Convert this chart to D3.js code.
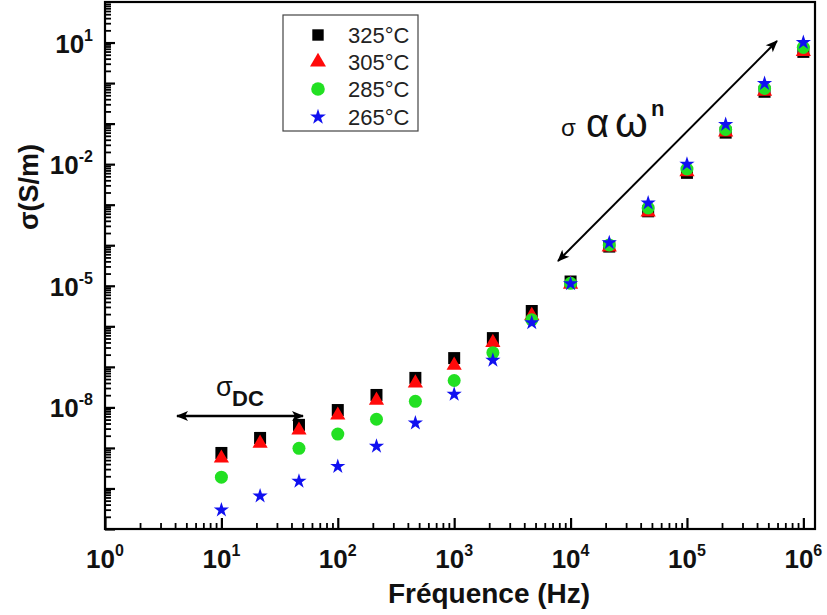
<!DOCTYPE html>
<html>
<head>
<meta charset="utf-8">
<script src="https://cdn.jsdelivr.net/npm/d3@7"></script>
<style>
  html, body { margin: 0; padding: 0; background: #fff; }
  svg { display: block; font-family: "Liberation Sans", Arial, sans-serif; }
</style>
</head>
<body>
<svg id="chart" width="827" height="615"></svg>
<script>
// Frequencies (Hz), three points per decade
const frequencies = [10, 21.5, 46.4, 100, 215, 464, 1000, 2150, 4640,
  1e4, 2.15e4, 4.64e4, 1e5, 2.15e5, 4.64e5, 1e6];

// Conductivity sigma (S/m) at each temperature
const sigma325 = [6.9e-10, 1.62e-9, 3.4e-9, 7.9e-9, 1.86e-8, 4.9e-8, 1.51e-7, 4.7e-7, 2.19e-6,
  1.17e-5, 8.5e-5, 6.3e-4, 5.6e-3, 0.055, 0.56, 5.4];
const sigma305 = [5.9e-10, 1.38e-9, 2.9e-9, 6.8e-9, 1.58e-8, 4.2e-8, 1.15e-7, 4.2e-7, 1.95e-6,
  1.15e-5, 9.5e-5, 6.9e-4, 6.8e-3, 0.065, 0.66, 6.3];
const sigma285 = [1.9e-10, null, 9.8e-10, 2.2e-9, 5.1e-9, 1.41e-8, 4.6e-8, 2.24e-7, 1.45e-6,
  1.15e-5, 1.02e-4, 8.3e-4, 7.6e-3, 0.072, 0.74, 7.6];
const sigma265 = [2.95e-11, 6.5e-11, 1.51e-10, 3.5e-10, 1.1e-9, 4.1e-9, 2.1e-8, 1.45e-7, 1.23e-6,
  1.12e-5, 1.15e-4, 1.1e-3, 0.01, 0.095, 0.98, 10];

const seriesNames = ["325°C", "305°C", "285°C", "265°C"];
const seriesValues = [sigma325, sigma305, sigma285, sigma265];

// Decade exponents used for tick labels
const xLabelExponents = [0, 1, 2, 3, 4, 5, 6];
const yLabelExponents = [1, -2, -5, -8];

const svg = d3.select("#chart");
const plotLeft = 105, plotRight = 815, plotTop = 2, plotBottom = 529;

const x = d3.scaleLog().domain([1, Math.pow(10, 6.1)]).range([plotLeft, plotRight]);
const y = d3.scaleLog().domain([1e-11, 1e2]).range([plotBottom, plotTop]);

// tick values: majors at each decade, minors at 2..9
function logTicks(eMin, eMax, maxVal) {
  const major = [], minor = [];
  for (let e = eMin; e <= eMax; e++) {
    const base = Math.pow(10, e);
    major.push(base);
    for (let m = 2; m <= 9; m++) {
      const v = m * base;
      if (v < maxVal) minor.push(v);
    }
  }
  return { major, minor };
}
const xt = logTicks(0, 6, x.domain()[1]);
const yt = logTicks(-11, 1, 1e2);

function styleAxis(g, w) {
  g.select(".domain").remove();
  g.selectAll(".tick line").attr("stroke", "#000").attr("stroke-width", w);
}

// x axis ticks (pointing inward)
svg.append("g").attr("transform", `translate(0,${plotBottom})`)
  .call(d3.axisBottom(x).tickValues(xt.minor).tickSize(-6).tickSizeOuter(0).tickFormat(""))
  .call(g => styleAxis(g, 1.8));
svg.append("g").attr("transform", `translate(0,${plotBottom})`)
  .call(d3.axisBottom(x).tickValues(xt.major).tickSize(-11).tickSizeOuter(0).tickFormat(""))
  .call(g => styleAxis(g, 2.2));

// y axis ticks (pointing inward)
svg.append("g").attr("transform", `translate(${plotLeft},0)`)
  .call(d3.axisLeft(y).tickValues(yt.minor).tickSize(-6).tickSizeOuter(0).tickFormat(""))
  .call(g => styleAxis(g, 1.8));
svg.append("g").attr("transform", `translate(${plotLeft},0)`)
  .call(d3.axisLeft(y).tickValues(yt.major).tickSize(-10).tickSizeOuter(0).tickFormat(""))
  .call(g => styleAxis(g, 2.2));

// frame
svg.append("rect")
  .attr("x", plotLeft).attr("y", plotTop)
  .attr("width", plotRight - plotLeft).attr("height", plotBottom - plotTop)
  .attr("fill", "none").attr("stroke", "#000").attr("stroke-width", 2.2);

// tick labels with superscript exponents
const xl = svg.append("g").attr("font-weight", "bold").attr("fill", "#111");
xLabelExponents.forEach(e => {
  const t = xl.append("text")
    .attr("x", x(Math.pow(10, e))).attr("y", 568)
    .attr("text-anchor", "middle").attr("font-size", 26);
  t.append("tspan").text("10");
  t.append("tspan").attr("dy", -12).attr("font-size", 16).text(e);
});
yLabelExponents.forEach(e => {
  const t = xl.append("text")
    .attr("x", 93).attr("y", y(Math.pow(10, e)) + 10)
    .attr("text-anchor", "end").attr("font-size", 26);
  t.append("tspan").text("10");
  t.append("tspan").attr("dy", -12).attr("font-size", 16).text(e);
});

// axis titles
svg.append("text")
  .attr("x", 489).attr("y", 603).attr("text-anchor", "middle")
  .attr("font-size", 28).attr("font-weight", "bold").attr("fill", "#111")
  .text("Fréquence (Hz)");
svg.append("text")
  .attr("transform", "translate(38,187) rotate(-90)")
  .attr("text-anchor", "middle")
  .attr("font-size", 27).attr("font-weight", "bold").attr("fill", "#111")
  .text("σ(S/m)");

// marker definitions
const markers = [
  { fill: "#000000", path: d3.symbol(d3.symbolSquare, 144)(), dy: -1.5 },
  { fill: "#ff0a0a", path: d3.symbol(d3.symbolTriangle, 100)(), dy: 1 },
  { fill: "#22e022", path: d3.symbol(d3.symbolCircle, 133)(), dy: 0 },
  { fill: "#1010f0", path: d3.symbol(d3.symbolStar, 72)(), dy: 0 }
];

// data points, lowest temperature drawn last (on top)
seriesValues.forEach((vals, i) => {
  const pts = frequencies.map((f, j) => ({ f, v: vals[j] })).filter(d => d.v != null);
  svg.append("g").selectAll("path").data(pts).join("path")
    .attr("d", markers[i].path)
    .attr("fill", markers[i].fill)
    .attr("transform", d => `translate(${x(d.f)},${y(d.v) + markers[i].dy})`);
});

// legend
const lg = svg.append("g");
lg.append("rect").attr("x", 283).attr("y", 15).attr("width", 135).attr("height", 116)
  .attr("fill", "#fff").attr("stroke", "#444").attr("stroke-width", 1.2);
const legendMarkers = [
  d3.symbol(d3.symbolSquare, 130)(),
  d3.symbol(d3.symbolTriangle, 110)(),
  d3.symbol(d3.symbolCircle, 145)(),
  d3.symbol(d3.symbolStar, 78)()
];
const rowY = [35, 62, 89, 117];
seriesNames.forEach((name, i) => {
  lg.append("path").attr("d", legendMarkers[i]).attr("fill", markers[i].fill)
    .attr("transform", `translate(318,${rowY[i]})`);
  lg.append("text").attr("x", 348).attr("y", rowY[i] + 8)
    .attr("font-size", 22).attr("fill", "#222").text(name);
});

// arrow heads
const defs = svg.append("defs");
defs.append("marker").attr("id", "ah").attr("viewBox", "0 0 12 10")
  .attr("refX", 11).attr("refY", 5).attr("markerWidth", 13).attr("markerHeight", 10)
  .attr("markerUnits", "userSpaceOnUse").attr("orient", "auto-start-reverse")
  .append("path").attr("d", "M0,0 L12,5 L0,10 L3,5 Z").attr("fill", "#000");

// sigma_DC plateau arrow
svg.append("line").attr("x1", 177).attr("y1", 416).attr("x2", 303).attr("y2", 416)
  .attr("stroke", "#000").attr("stroke-width", 2.5)
  .attr("marker-start", "url(#ah)").attr("marker-end", "url(#ah)");
svg.append("text").attr("x", 216).attr("y", 396).attr("font-size", 27).attr("fill", "#111").text("σ");
svg.append("text").attr("x", 232).attr("y", 406).attr("font-size", 22).attr("font-weight", "bold").attr("fill", "#111").text("DC");

// power-law region arrow
svg.append("line").attr("x1", 558).attr("y1", 261).attr("x2", 777).attr("y2", 41)
  .attr("stroke", "#000").attr("stroke-width", 2)
  .attr("marker-start", "url(#ah)").attr("marker-end", "url(#ah)");
svg.append("text").attr("x", 561).attr("y", 136).attr("font-size", 24).attr("fill", "#111").text("σ");
svg.append("text").attr("x", 586).attr("y", 137).attr("font-size", 40).attr("fill", "#111").text("α");
svg.append("text").attr("x", 615).attr("y", 137).attr("font-size", 42).attr("fill", "#111").text("ω");
svg.append("text").attr("x", 651).attr("y", 116).attr("font-size", 22).attr("font-weight", "bold").attr("fill", "#111").text("n");
</script>
</body>
</html>
